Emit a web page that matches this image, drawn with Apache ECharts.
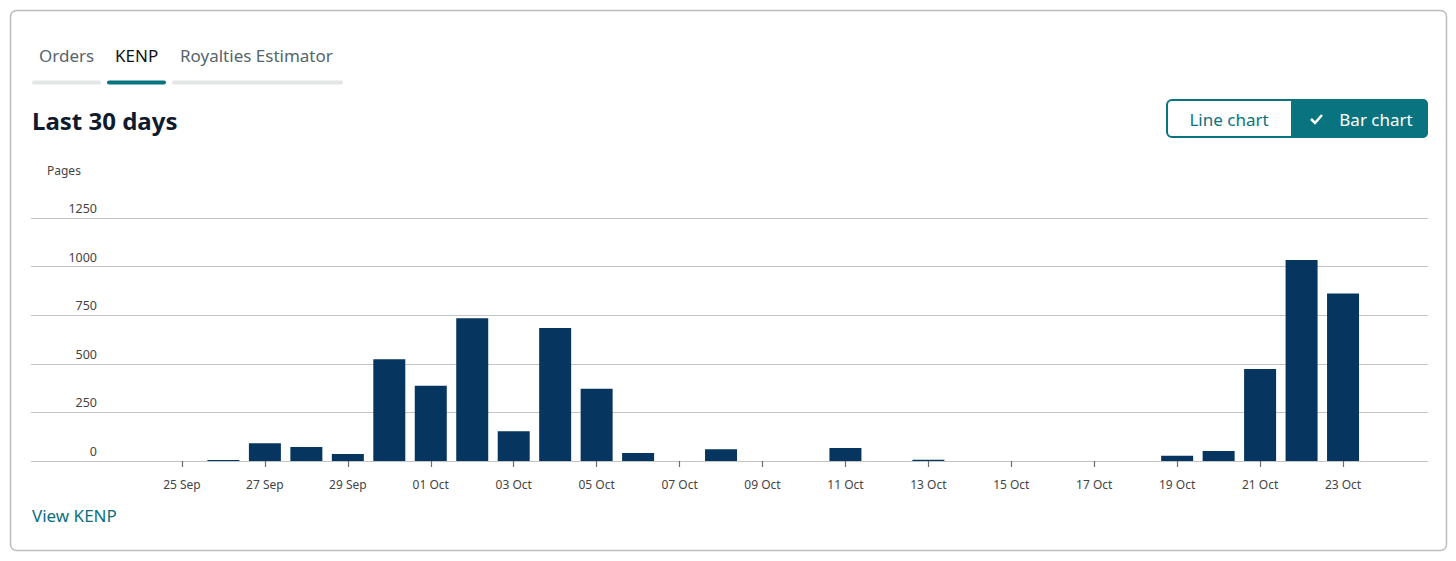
<!DOCTYPE html>
<html>
<head>
<meta charset="utf-8">
<script src="https://cdn.jsdelivr.net/npm/echarts@6/dist/echarts.min.js"></script>
<style>
html,body{margin:0;padding:0;background:#fff;}
#chart{width:1456px;height:561px;}
</style>
</head>
<body>
<div id="chart"></div>
<script>
// Category days (24 Sep .. 24 Oct); 24 Oct is the closing edge of the axis
const days = ['24 Sep','25 Sep','26 Sep','27 Sep','28 Sep','29 Sep','30 Sep',
  '01 Oct','02 Oct','03 Oct','04 Oct','05 Oct','06 Oct','07 Oct','08 Oct','09 Oct','10 Oct',
  '11 Oct','12 Oct','13 Oct','14 Oct','15 Oct','16 Oct','17 Oct','18 Oct','19 Oct','20 Oct',
  '21 Oct','22 Oct','23 Oct','24 Oct'];
// KENP pages read per day
const pages = [0, 0, 5, 91, 72, 36, 523, 387, 734, 153, 684, 372, 41, 0, 60, 0, 0,
  67, 0, 7, 0, 0, 0, 0, 0, 27, 51, 473, 1034, 861, null];
// Y-axis ticks
const yTicks = [0, 250, 500, 750, 1000, 1250];
const tabs = ['Orders', 'KENP', 'Royalties Estimator'];

const FONT = "'Noto Sans', 'Open Sans', sans-serif";
const TEAL = '#0a7380';
const BAR = '#06365f';

const chart = echarts.init(document.getElementById('chart'), null, {renderer: 'svg'});
const yMin = yTicks[0], yMax = yTicks[yTicks.length - 1], yStep = yTicks[1] - yTicks[0];

chart.setOption({
  animation: false,
  textStyle: {fontFamily: FONT},
  grid: [
    {left: 31, right: 28, top: 218, bottom: 100},
    {left: 140.5, right: 71.5, top: 218, bottom: 100}
  ],
  xAxis: [
    {gridIndex: 0, type: 'category', data: days, show: false},
    {
      gridIndex: 1, type: 'category', data: days, boundaryGap: false,
      axisLine: {show: false},
      axisTick: {show: true, length: 6, interval: (i) => i % 2 === 1, lineStyle: {color: '#6b6b6b', width: 1.2}},
      axisLabel: {interval: (i) => i % 2 === 1, margin: 17, color: '#444', fontSize: 12, fontFamily: FONT},
      splitLine: {show: false}
    }
  ],
  yAxis: [
    {
      gridIndex: 0, type: 'value', min: yMin, max: yMax, interval: yStep,
      name: 'Pages', nameLocation: 'end', nameGap: 42,
      nameTextStyle: {align: 'left', padding: [0, 0, 0, 16], color: '#444', fontSize: 12, fontFamily: FONT},
      axisLine: {show: false}, axisTick: {show: false},
      axisLabel: {inside: true, margin: 66, align: 'right', verticalAlign: 'bottom', padding: [0, 0, 3, 0],
        color: '#444', fontSize: 12.5, fontFamily: FONT, formatter: (v) => String(v)},
      splitLine: {show: true, lineStyle: {color: '#c4c4c4', width: 1.2}}
    },
    {gridIndex: 1, type: 'value', min: yMin, max: yMax, interval: yStep, show: false, splitLine: {show: false}}
  ],
  series: [{
    type: 'bar', xAxisIndex: 1, yAxisIndex: 1,
    data: pages, barWidth: 32,
    itemStyle: {color: BAR}
  }],
  graphic: [
    // card border
    {type: 'rect', shape: {x: 10.5, y: 10.5, width: 1436, height: 540, r: 6},
      style: {fill: 'none', stroke: '#bdbdbd', lineWidth: 1.5}, z: 0, silent: true},
    // tabs
    {type: 'text', x: 39, y: 55, style: {text: tabs[0], font: '17px ' + FONT, fill: '#56656a', verticalAlign: 'middle'}},
    {type: 'text', x: 115, y: 55, style: {text: tabs[1], font: '17px ' + FONT, fill: '#0f1111', verticalAlign: 'middle'}},
    {type: 'text', x: 180, y: 55, style: {text: tabs[2], font: '17px ' + FONT, fill: '#56656a', verticalAlign: 'middle'}},
    {type: 'rect', shape: {x: 32, y: 80.5, width: 69, height: 4, r: 2}, style: {fill: '#e3e6e6'}},
    {type: 'rect', shape: {x: 107, y: 80.5, width: 59, height: 4, r: 2}, style: {fill: TEAL}},
    {type: 'rect', shape: {x: 172, y: 80.5, width: 171, height: 4, r: 2}, style: {fill: '#e3e6e6'}},
    // title
    {type: 'text', x: 32, y: 120, style: {text: 'Last 30 days', font: 'bold 24px ' + FONT, fill: '#0f1b2d', verticalAlign: 'middle'}},
    // toggle buttons
    {type: 'rect', shape: {x: 1291, y: 99, width: 137, height: 39, r: [0, 5, 5, 0]}, style: {fill: TEAL}},
    {type: 'rect', shape: {x: 1167, y: 100, width: 260, height: 37, r: 5}, style: {fill: 'none', stroke: TEAL, lineWidth: 2}},
    {type: 'text', x: 1229, y: 119, style: {text: 'Line chart', font: '17px ' + FONT, fill: TEAL, align: 'center', verticalAlign: 'middle'}},
    {type: 'polyline', shape: {points: [[1311, 119], [1315, 123], [1322, 115]]}, style: {stroke: '#fff', lineWidth: 2.5, fill: 'none'}},
    {type: 'text', x: 1376, y: 119, style: {text: 'Bar chart', font: '17px ' + FONT, fill: '#fff', align: 'center', verticalAlign: 'middle'}},
    // link
    {type: 'text', x: 32, y: 515, style: {text: 'View KENP', font: '17px ' + FONT, fill: '#0b6f7e', verticalAlign: 'middle'}}
  ]
});
</script>
</body>
</html>
